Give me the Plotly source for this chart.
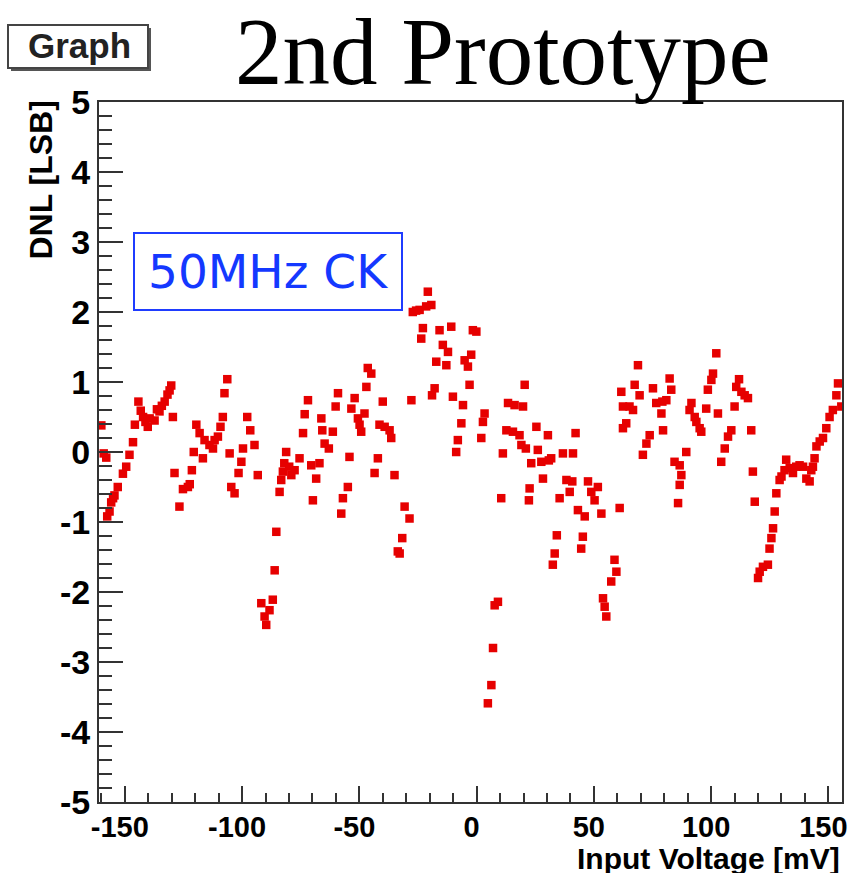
import plotly.graph_objects as go

# ---- data ----
input_mv = [
    -160.0, -159.0, -157.9, -157.5, -156.5, -155.8, -155.0, -154.4, -153.0, -150.8,
    -149.4, -148.0, -146.5, -145.7, -144.2, -143.2, -142.2, -141.2, -140.2, -139.4,
    -137.3, -136.3, -135.2, -134.2, -133.0, -131.8, -130.9, -130.2, -129.5, -128.8,
    -126.7, -125.2, -123.1, -122.3, -121.4, -120.6, -119.5, -118.1, -116.7, -116.0,
    -113.9, -112.4, -111.7, -110.3, -109.2, -108.2, -107.5, -106.3, -105.3, -104.6,
    -103.2, -101.5, -100.3, -99.6, -97.8, -96.5, -94.7, -93.3, -91.8, -90.4,
    -89.7, -88.3, -86.9, -86.1, -85.4, -84.0, -83.3, -82.6, -82.0, -81.2,
    -79.9, -79.0, -77.6, -75.5, -74.0, -73.3, -71.9, -70.5, -69.8, -68.4,
    -67.0, -66.2, -65.8, -64.8, -63.0, -61.3, -60.1, -59.1, -57.7, -57.0,
    -54.9, -54.2, -53.4, -52.0, -50.6, -49.9, -49.2, -47.8, -47.0, -46.4,
    -44.9, -43.5, -42.1, -41.4, -40.0, -39.2, -37.1, -36.4, -35.0, -33.6,
    -32.8, -31.7, -30.7, -28.6, -27.8, -27.2, -25.8, -24.3, -23.6, -22.9,
    -21.5, -20.8, -19.3, -19.0, -17.9, -17.2, -15.8, -14.4, -12.9, -12.2,
    -10.8, -10.1, -8.7, -8.0, -6.5, -5.8, -5.1, -3.7, -3.0, -2.3,
    -1.6, -0.1, 2.0, 2.7, 3.4, 4.8, 6.3, 7.0, 7.7, 9.1,
    10.5, 11.2, 12.7, 13.4, 15.5, 16.2, 18.3, 19.1, 19.8, 20.5,
    21.0, 22.3, 22.6, 23.3, 25.5, 26.1, 27.6, 28.3, 30.4, 30.8,
    31.8, 32.5, 33.3, 34.2, 35.4, 36.8, 38.3, 39.7, 40.8, 41.1,
    42.2, 43.2, 44.6, 45.3, 46.1, 47.5, 48.9, 50.3, 51.7, 53.2,
    53.9, 54.6, 55.3, 57.4, 58.8, 59.6, 61.0, 61.7, 62.4, 62.4,
    63.8, 65.2, 66.7, 67.4, 68.8, 69.5, 70.9, 72.4, 73.8, 75.2,
    76.6, 78.8, 79.2, 79.5, 80.9, 82.3, 83.0, 84.4, 85.9, 86.6,
    86.6, 87.3, 89.4, 90.8, 91.6, 93.0, 93.7, 95.1, 95.8, 97.9,
    98.6, 100.1, 100.8, 102.2, 102.9, 104.3, 105.8, 107.2, 108.6, 110.0,
    110.7, 111.9, 112.9, 114.3, 115.7, 117.1, 117.8, 118.6, 120.0, 120.7,
    122.1, 124.2, 124.9, 125.7, 126.4, 127.1, 127.8, 129.2, 130.0, 131.3,
    132.0, 133.5, 134.9, 136.3, 137.7, 139.2, 140.6, 142.0, 142.7, 143.4,
    144.1, 144.9, 146.3, 147.7, 149.1, 150.5, 151.9, 153.4, 154.1, 155.5,
]
dnl_lsb = [
    0.38, -0.02, -0.08, -0.92, -0.85, -0.72, -0.66, -0.62, -0.50, -0.31,
    -0.21, -0.04, 0.14, 0.39, 0.72, 0.59, 0.50, 0.43, 0.36, 0.48,
    0.45, 0.61, 0.58, 0.66, 0.72, 0.82, 0.88, 0.95, 0.50, -0.30,
    -0.78, -0.53, -0.50, -0.46, -0.26, 0.00, 0.39, 0.27, -0.09, 0.17,
    0.10, 0.05, 0.17, 0.22, 0.36, 0.50, 0.84, 1.04, -0.02, -0.50,
    -0.59, -0.30, -0.14, 0.05, 0.50, 0.31, 0.10, -0.33, -2.16, -2.35,
    -2.47, -2.26, -2.11, -1.69, -1.14, -0.57, -0.40, -0.28, -0.16, 0.00,
    -0.21, -0.33, -0.26, -0.09, 0.27, 0.54, 0.74, -0.19, -0.69, -0.38,
    -0.16, 0.48, 0.31, 0.12, 0.05, 0.29, 0.65, 0.84, -0.88, -0.66,
    -0.50, -0.07, 0.62, 0.77, 0.48, 0.39, 0.29, 0.55, 0.93, 1.20,
    1.12, -0.30, -0.09, 0.39, 0.72, 0.36, 0.31, 0.20, -0.33, -1.42,
    -1.45, -1.23, -0.78, -0.95, 0.74, 2.00, 2.02, 2.03, 1.62, 1.77,
    2.08, 2.29, 2.10, 0.81, 0.91, 1.29, 1.74, 1.53, 1.24, 1.43,
    1.79, 0.79, 0.00, 0.17, 0.41, 0.67, 1.31, 1.22, 0.96, 1.39,
    1.74, 1.72, 0.20, 0.43, 0.55, -3.59, -3.33, -2.80, -2.19, -2.14,
    -0.66, -0.02, 0.31, 0.70, 0.29, 0.67, 0.24, 0.10, 0.65, 0.96,
    0.05, -0.69, -0.52, -0.16, 0.36, 0.03, -0.14, -0.38, 0.24, -0.12,
    -0.09, -1.61, -1.45, -1.19, -0.66, -0.02, -0.40, -0.57, -0.42, -0.02,
    0.27, -0.83, -1.38, -1.21, -0.92, -0.42, -0.57, -0.69, -0.50, -0.88,
    -2.09, -2.21, -2.35, -1.85, -1.54, -1.71, -0.80, 0.86, 0.65, 0.34,
    0.41, 0.65, 0.60, 0.96, 1.24, 0.81, -0.04, 0.12, 0.24, 0.91,
    0.70, 0.55, 0.72, 0.31, 0.74, 1.05, 0.89, -0.14, -0.73, -0.47,
    -0.19, -0.33, 0.00, 0.60, 0.70, 0.50, 0.43, 0.34, 0.29, 0.62,
    0.89, 1.03, 1.12, 1.41, 0.55, -0.14, 0.05, 0.22, 0.31, 0.65,
    0.93, 1.04, 0.86, 0.81, 0.77, 0.31, -0.28, -0.71, -1.80, -1.71,
    -1.64, -1.61, -1.38, -1.23, -1.09, -0.85, -0.59, -0.40, -0.35, -0.26,
    -0.11, -0.23, -0.30, -0.21, -0.19, -0.21, -0.38, -0.42, -0.26, -0.21,
    -0.09, 0.08, 0.15, 0.20, 0.34, 0.50, 0.60, 0.81, 0.98, 0.65,
]

x_tick_vals = [-150, -100, -50, 0, 50, 100, 150]
x_tick_text = ["-150", "-100", "-50", "0", "50", "100", "150"]
y_tick_vals = [-5, -4, -3, -2, -1, 0, 1, 2, 3, 4, 5]
y_tick_text = ["-5", "-4", "-3", "-2", "-1", "0", "1", "2", "3", "4", "5"]

title_text = "2nd Prototype"
graph_label = "Graph"
clock_label = "50MHz CK"
x_title = "Input Voltage [mV]"
y_title = "DNL [LSB]"

# ---- layout geometry (pixels) ----
W, H = 848, 873
L, R, T, B = 99, 6, 102, 71
PW, PH = W - L - R, H - T - B


def px(xp):
    return (xp - L) / PW


def py(yp):
    return (H - B - yp) / PH


xtickfont = dict(family="Liberation Sans, Arial, sans-serif", size=29, color="black", weight="bold")
ytickfont = dict(family="Liberation Sans, Arial, sans-serif", size=34, color="black", weight="bold")
xtitlefont = dict(family="Liberation Sans, Arial, sans-serif", size=30, color="black", weight="bold")
ytitlefont = dict(family="Liberation Sans, Arial, sans-serif", size=32, color="black", weight="bold")
axis_col = "#333333"

fig = go.Figure()
fig.add_trace(go.Scatter(
    x=input_mv, y=dnl_lsb, mode="markers",
    marker=dict(symbol="square", size=8.5, color="#e60000", line=dict(width=0)),
    hoverinfo="x+y",
))

fig.update_layout(
    width=W, height=H,
    margin=dict(l=L, r=R, t=T, b=B, autoexpand=False),
    paper_bgcolor="white", plot_bgcolor="white",
    showlegend=False,
    xaxis=dict(
        range=[-161, 155.8], tickvals=x_tick_vals, ticktext=x_tick_text,
        ticks="inside", ticklen=16, tickwidth=2, tickcolor=axis_col,
        minor=dict(ticks="inside", ticklen=9, tickwidth=1.5, tickcolor=axis_col, dtick=10, tick0=0),
        showline=True, linecolor=axis_col, linewidth=2, mirror=True,
        showgrid=False, zeroline=False, tickfont=xtickfont,
        ticklabeloverflow="allow", automargin=False,
        ticklabelshift=-5, ticklabelstandoff=-2,
    ),
    yaxis=dict(
        range=[-5, 5], tickvals=y_tick_vals, ticktext=y_tick_text,
        ticks="inside", ticklen=24, tickwidth=2, tickcolor=axis_col,
        minor=dict(ticks="inside", ticklen=13, tickwidth=1.5, tickcolor=axis_col, dtick=0.2, tick0=0),
        showline=True, linecolor=axis_col, linewidth=2, mirror=True,
        showgrid=False, zeroline=False, tickfont=ytickfont,
        ticklabeloverflow="allow", automargin=False,
    ),
)

shapes = [
    # Graph box shadow + box
    dict(type="rect", xref="paper", yref="paper",
         x0=px(11), x1=px(151), y0=py(71), y1=py(28),
         line=dict(width=0), fillcolor="#555555", layer="above"),
    dict(type="rect", xref="paper", yref="paper",
         x0=px(8), x1=px(148), y0=py(68), y1=py(25),
         line=dict(color="#444444", width=2), fillcolor="white", layer="above"),
    # 50MHz CK box
    dict(type="rect", xref="paper", yref="paper",
         x0=px(134), x1=px(402), y0=py(310), y1=py(233),
         line=dict(color="#1f3cff", width=2), fillcolor="white", layer="above"),
]
fig.update_layout(shapes=shapes)

annotations = [
    dict(text=title_text, xref="paper", yref="paper", x=px(503), y=py(52),
         xanchor="center", yanchor="middle", showarrow=False,
         font=dict(family="Liberation Serif, Times New Roman, serif", size=95, color="black")),
    dict(text=graph_label, xref="paper", yref="paper", x=px(79), y=py(46),
         xanchor="center", yanchor="middle", showarrow=False,
         font=dict(family="Liberation Sans, Arial, sans-serif", size=35, color="#222222", weight="bold")),
    dict(text=clock_label, xref="paper", yref="paper", x=px(268), y=py(271),
         xanchor="center", yanchor="middle", showarrow=False,
         font=dict(family="DejaVu Sans, Verdana, sans-serif", size=47, color="#1438ff")),
    dict(text=y_title, xref="paper", yref="paper", x=px(40), y=py(99),
         xanchor="center", yanchor="top", showarrow=False, textangle=-90,
         font=ytitlefont),
    dict(text=x_title, xref="paper", yref="paper", x=px(842), y=py(858),
         xanchor="right", yanchor="middle", showarrow=False,
         font=xtitlefont),
]
fig.update_layout(annotations=annotations)

fig.write_html("out.html")
